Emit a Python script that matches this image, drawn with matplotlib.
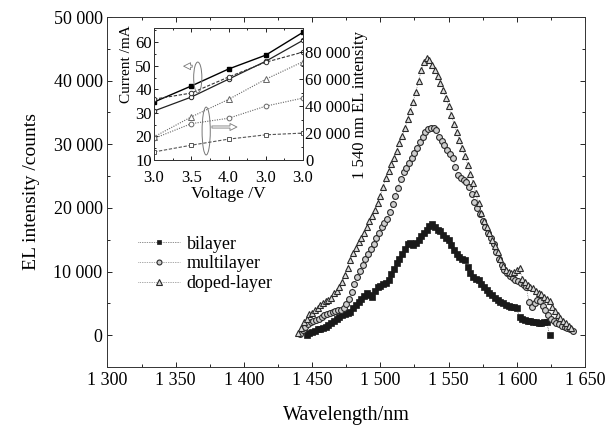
import matplotlib
matplotlib.use("Agg")
import matplotlib.pyplot as plt
from matplotlib.patches import Ellipse
from matplotlib.ticker import MultipleLocator

plt.rcParams['font.family'] = ['Liberation Serif', 'DejaVu Serif']

# ---------------- main spectra (2 nm steps) ----------------
doped_wl = list(range(1440, 1641, 2))
doped_int = [300, 1200, 2000, 2600, 3300, 3500, 3900, 4300, 4800, 5100,
             5300, 5500, 5900, 6600, 7000, 7500, 8300, 9400, 10600, 11800,
             12900, 13700, 14600, 15300, 16100, 17000, 17900, 18800, 19700, 20700,
             21800, 23300, 24700, 25800, 26900, 27900, 28900, 30200, 31300, 32500,
             33900, 35300, 36700, 38200, 39900, 41600, 42900, 43600, 43300, 42500,
             41700, 40700, 39600, 38500, 37300, 36000, 34600, 33200, 31900, 30600,
             29400, 28200, 26800, 25400, 23900, 22300, 20700, 19200, 18000, 17000,
             16000, 15000, 14000, 13000, 11900, 10900, 10300, 10000, 9800, 9900,
             10300, 10500, 8900, 8300, 7900, 7600, 7400, 7000, 6700, 6400,
             6000, 5700, 5300, 4400, 3800, 3200, 2700, 2300, 1900, 1500,
             1100]

multi_wl = list(range(1441, 1642, 2))
multi_int = [200, 800, 1300, 1700, 2000, 2200, 2400, 2600, 2900, 3100,
             3300, 3500, 3700, 3800, 3900, 4000, 4200, 4900, 5700, 6800,
             8000, 9100, 10100, 11000, 11900, 12800, 13600, 14400, 15200, 16100,
             17000, 17700, 18300, 19400, 20600, 21900, 23200, 24600, 25600, 26300,
             27100, 27900, 28600, 29400, 30300, 31200, 32000, 32400, 32600, 32500,
             32200, 31100, 30500, 29900, 29100, 28500, 27800, 26500, 25200, 24700,
             24400, 24100, 23300, 22200, 21000, 20000, 19000, 18000, 17000, 16100,
             15200, 14300, 13100, 12000, 11000, 10200, 9700, 9300, 9000, 8700,
             8500, 8200, 7900, 7500, 5200, 4400, 5000, 5600, 5400, 4600,
             3900, 3200, 2600, 2200, 1900, 1700, 1500, 1300, 1100, 900,
             700]

bi_wl = list(range(1446, 1625, 2))
bi_int = [100, 300, 500, 700, 900, 1000, 1100, 1300, 1600, 1900,
          2300, 2600, 2800, 3100, 3300, 3500, 3600, 4200, 4700, 5200,
          5700, 6100, 6600, 6300, 6000, 7000, 7500, 7800, 8000, 8200,
          8700, 9600, 10400, 11300, 12000, 12800, 13600, 14400, 14500, 14200,
          14500, 15000, 15600, 16100, 16600, 17200, 17500, 17000, 16600, 16300,
          15800, 15300, 14900, 14200, 13400, 12800, 12300, 12000, 11800, 10700,
          9700, 9100, 8800, 8600, 8100, 7500, 7100, 6700, 6300, 5900,
          5500, 5200, 5000, 4800, 4600, 4500, 4400, 4200, 2900, 2600,
          2400, 2300, 2200, 2100, 2000, 1900, 1900, 2000, 2000, 100]

x_ticks = [1300, 1350, 1400, 1450, 1500, 1550, 1600, 1650]
x_tick_labels = ["1 300", "1 350", "1 400", "1 450", "1 500", "1 550", "1 600", "1 650"]
y_ticks = [0, 10000, 20000, 30000, 40000, 50000]
y_tick_labels = ["0", "10 000", "20 000", "30 000", "40 000", "50 000"]

# ---------------- inset ----------------
voltage = [3.0, 3.5, 4.0, 4.5, 5.0]
voltage_labels = ["3.0", "3.5", "4.0", "3.0", "3.0"]
cur_a = [34.6, 41.4, 48.6, 54.5, 64.2]
cur_b = [30.8, 36.7, 44.3, 51.9, 60.8]
cur_c = [35.8, 38.4, 45.2, 51.5, 55.8]
el_d = [17200, 32000, 45000, 60000, 73000]
el_e = [16000, 27000, 31000, 40000, 46000]
el_f = [6000, 11000, 15500, 18700, 20000]
cur_ticks = [10, 20, 30, 40, 50, 60]
el_ticks = [0, 20000, 40000, 60000, 80000]
el_tick_labels = ["0", "20 000", "40 000", "60 000", "80 000"]

fig = plt.figure(figsize=(6.10, 4.25), dpi=100)
ax = fig.add_axes([0.1762, 0.1365, 0.7828, 0.8235])

sty = dict(linestyle=(0, (1, 1.5)), linewidth=0.5)
ax.plot(bi_wl, bi_int, color='#222222', marker='s', markersize=3.8, markerfacecolor='#1a1a1a',
        markeredgecolor='#1a1a1a', markeredgewidth=0.5, label='bilayer', **sty)
ax.plot(multi_wl, multi_int, color='#555555', marker='o', markersize=4.2, markerfacecolor='#cfcfcf',
        markeredgecolor='#2a2a2a', markeredgewidth=0.8, label='multilayer', **sty)
ax.plot(doped_wl, doped_int, color='#555555', marker='^', markersize=4.6, markerfacecolor='#dcdcdc',
        markeredgecolor='#2a2a2a', markeredgewidth=0.8, label='doped-layer', **sty)

ax.set_xlim(1300, 1650)
ax.set_ylim(-5000, 50000)
ax.set_xticks(x_ticks)
ax.set_xticklabels(x_tick_labels)
ax.set_yticks(y_ticks)
ax.set_yticklabels(y_tick_labels)
ax.xaxis.set_minor_locator(MultipleLocator(25))
ax.yaxis.set_minor_locator(MultipleLocator(5000))
ax.tick_params(which='both', direction='in', top=True, right=True, labelsize=13, width=0.6)
ax.tick_params(which='major', length=3.5)
ax.tick_params(which='minor', length=2)
for s in ax.spines.values():
    s.set_linewidth(0.7)
    s.set_color('#333333')
ax.set_xlabel('Wavelength/nm', fontsize=14.5, labelpad=12)
ax.set_ylabel('EL intensity /counts', fontsize=14, labelpad=10)

leg = ax.legend(loc='center left', bbox_to_anchor=(0.03, 0.295), frameon=False, fontsize=13,
                handlelength=2.3, handletextpad=0.4, labelspacing=0.15, markerscale=0.85)

# inset
ia = fig.add_axes([0.2525, 0.6235, 0.2443, 0.3106])
ib = ia.twinx()
ia.plot(voltage, cur_a, color='black', linestyle='-', linewidth=1.0, marker='s', markersize=3,
        markerfacecolor='black', markeredgecolor='black')
ia.plot(voltage, cur_b, color='#222222', linestyle='-', linewidth=0.9, marker='o', markersize=3.2,
        markerfacecolor='white', markeredgecolor='#222222', markeredgewidth=0.7)
ia.plot(voltage, cur_c, color='#333333', linestyle=(0, (3, 1.5)), linewidth=0.8, marker='o', markersize=3.2,
        markerfacecolor='white', markeredgecolor='#333333', markeredgewidth=0.7)
ib.plot(voltage, el_d, color='#666666', linestyle=(0, (1, 1.2)), linewidth=0.8, marker='^', markersize=4,
        markerfacecolor='white', markeredgecolor='#666666', markeredgewidth=0.7)
ib.plot(voltage, el_e, color='#666666', linestyle=(0, (1, 1.2)), linewidth=0.8, marker='o', markersize=3.4,
        markerfacecolor='white', markeredgecolor='#666666', markeredgewidth=0.7)
ib.plot(voltage, el_f, color='#555555', linestyle=(0, (3, 1.5)), linewidth=0.8, marker='s', markersize=3.4,
        markerfacecolor='white', markeredgecolor='#555555', markeredgewidth=0.7)

ia.set_xlim(3.0, 5.0)
ia.set_ylim(10, 66)
ib.set_ylim(0, 98000)
ia.set_xticks(voltage)
ia.set_xticklabels(voltage_labels)
ia.set_yticks(cur_ticks)
ib.set_yticks(el_ticks)
ib.set_yticklabels(el_tick_labels)
ia.xaxis.set_minor_locator(MultipleLocator(0.25))
ia.yaxis.set_minor_locator(MultipleLocator(5))
ib.yaxis.set_minor_locator(MultipleLocator(10000))
ia.tick_params(axis='x', which='both', direction='in', top=True, labelsize=12, pad=7, width=0.6)
ia.tick_params(axis='y', which='both', direction='in', labelsize=12, pad=1.5, width=0.6)
ib.tick_params(which='both', direction='in', labelsize=12, pad=1.5, width=0.6)
for a in (ia, ib):
    a.tick_params(which='major', length=3)
    a.tick_params(which='minor', length=1.6)
    for s in a.spines.values():
        s.set_linewidth(0.7)
        s.set_color('#333333')
ia.set_xlabel('Voltage /V', fontsize=12.5, labelpad=0)
ia.set_ylabel('Current /mA', fontsize=11)
ia.yaxis.set_label_coords(-0.14, 0.73)
ib.set_ylabel('1 540 nm EL intensity', fontsize=12)
ib.yaxis.set_label_coords(1.33, 0.42)

# annotation ellipses and arrows (in current-axis data coordinates)
ell1 = dict(xy=(3.587, 45.0), width=0.11, height=13.1)
ell2 = dict(xy=(3.70, 22.3), width=0.11, height=20.3)
for e in (ell1, ell2):
    ia.add_patch(Ellipse(e['xy'], e['width'], e['height'], fill=False, edgecolor='#777777',
                         linewidth=0.7, zorder=5))
arrow_style = dict(arrowstyle='simple,head_length=0.5,head_width=0.5,tail_width=0.15',
                   facecolor='white', edgecolor='#777777', linewidth=0.6)
ia.annotate('', xy=(3.36, 49.8), xytext=(3.55, 49.8), arrowprops=arrow_style)
ia.annotate('', xy=(4.15, 24.0), xytext=(3.74, 24.0), arrowprops=arrow_style)

fig.savefig('out.png', dpi=100)
